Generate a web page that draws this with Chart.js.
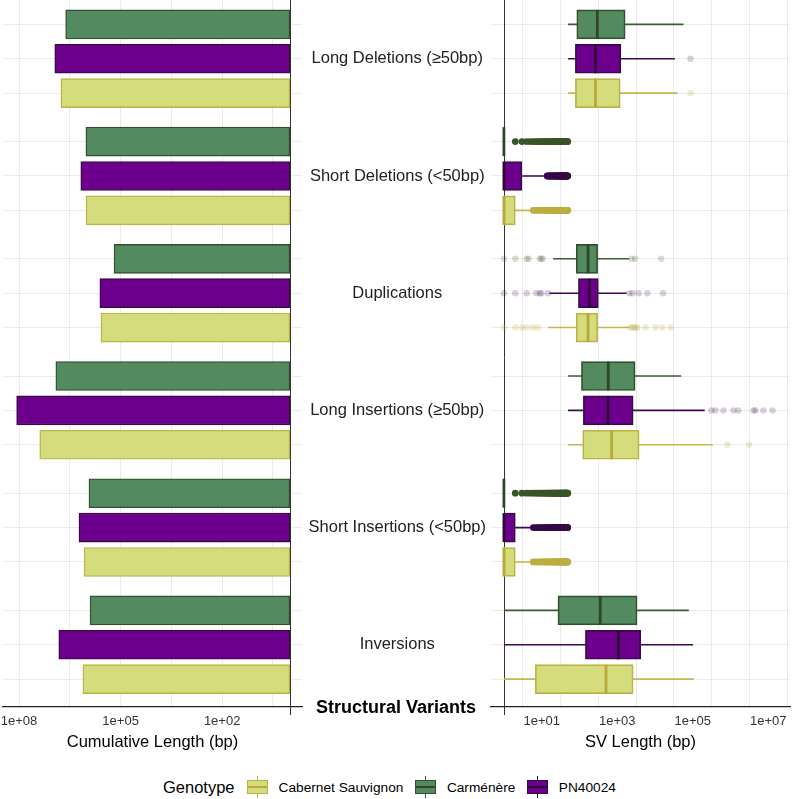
<!DOCTYPE html>
<html>
<head>
<meta charset="utf-8">
<script src="https://cdn.jsdelivr.net/npm/chart.js@4.4.1/dist/chart.umd.min.js"></script>
<style>
  html, body { margin: 0; padding: 0; background: #fff; }
  body { width: 792px; height: 799px; position: relative; overflow: hidden; font-family: "Liberation Sans", Arial, sans-serif; }
  .wrap { position: absolute; top: 0; height: 759px; }
  #leftWrap { left: 0; width: 305px; }
  #rightWrap { left: 305px; width: 487px; }
  #yTitle { position: absolute; left: 0; width: 792px; top: 698px; line-height: 18px; text-align: center; font-weight: bold; font-size: 18px; color: #000; }
  #legend { position: absolute; left: 163px; top: 776px; height: 22px; display: flex; align-items: center; color: #000; }
  #legend .ttl { font-size: 16.5px; margin-right: 12px; }
  #legend .key { position: relative; width: 21px; height: 22px; margin-right: 11px; }
  #legend .key .wh { position: absolute; left: 10px; top: 0; width: 1px; height: 22px; }
  #legend .key .bx { position: absolute; left: 0; top: 4px; width: 19px; height: 12px; border-width: 1px; border-style: solid; }
  #legend .key .md { position: absolute; left: 1px; top: 10px; width: 19px; height: 2px; }
  #legend .lab { font-size: 13.7px; margin-right: 11.5px; }
</style>
</head>
<body>
<div class="wrap" id="leftWrap"><canvas id="leftChart"></canvas></div>
<div class="wrap" id="rightWrap"><canvas id="rightChart"></canvas></div>
<div id="yTitle">Structural Variants</div>
<div id="legend"></div>
<script>
// categories (top to bottom) and genotype rows inside each category
const categories = ['Long Deletions (≥50bp)', 'Short Deletions (<50bp)', 'Duplications',
  'Long Insertions (≥50bp)', 'Short Insertions (<50bp)', 'Inversions'];
const rowGenotypes = ['Carménère', 'PN40024', 'Cabernet Sauvignon'];
const legendGenotypes = ['Cabernet Sauvignon', 'Carménère', 'PN40024'];

// cumulative length (bp) per category
const carmCum = [4.2e6, 1.06e6, 1.56e5, 8.2e6, 8.6e5, 8.0e5];
const pnCum = [8.8e6, 1.5e6, 4.1e5, 1.18e8, 1.7e6, 6.7e6];
const cabCum = [5.8e6, 1.05e6, 3.8e5, 2.45e7, 1.2e6, 1.3e6];

// boxplot stats [whisker low, q1, median, q3, whisker high]
const carmBox = [[50, 85, 297, 1620, 56900], [1, 1, 1, 1, 1], [20, 82, 169, 303, 2090],
  [50, 113, 580, 2970, 49500], [1, 1, 1, 1, 1], [1, 27, 355, 3360, 78500]];
const pnBox = [[50, 78, 265, 1250, 33700], [1, 1, 1, 3, 13], [16, 94, 183, 316, 1760],
  [50, 127, 569, 2640, 207000], [1, 1, 1, 2, 5], [1, 144, 1080, 4200, 102000]];
const cabBox = [[50, 78, 265, 1200, 39600], [1, 1, 1, 2, 5], [15, 82, 169, 303, 2090],
  [50, 122, 708, 3800, 341000], [1, 1, 1, 2, 5], [1, 6.8, 505, 2640, 106000]];

// sparse outliers (drawn translucent)
const carmOutliers = [[], [], [1, 2, 4, 4.5, 8.9, 9.8, 10.6, 2400, 2960, 14600], [], [], []];
const pnOutliers = [[87000], [], [1, 2, 4, 7.2, 8.9, 9.8, 14.6, 2090, 2560, 3700, 6300, 16300],
  [309000, 395000, 650000, 1.2e6, 1.6e6, 4.1e6, 4.6e6, 7.4e6, 1.3e7], [], []];
const cabOutliers = [[87000], [], [1, 2, 3, 4, 5.9, 8, 2200, 2500, 2800, 3100, 3400, 5700, 10400, 15700, 26100],
  [830000, 3.1e6], [], []];

// dense outlier runs of the short SVs (every length up to 49 bp)
const carmDense = [[], [2, 3, 4, 5, 6, 7, 8, 9, 10, 11, 12, 13, 14, 15, 16, 17, 18, 19, 20, 21, 22, 23, 24, 25, 26, 27, 28, 29, 30, 31, 32, 33, 34, 35, 36, 37, 38, 39, 40, 41, 42, 43, 44, 45, 46, 47, 48, 49], [], [],
  [2, 3, 4, 5, 6, 7, 8, 9, 10, 11, 12, 13, 14, 15, 16, 17, 18, 19, 20, 21, 22, 23, 24, 25, 26, 27, 28, 29, 30, 31, 32, 33, 34, 35, 36, 37, 38, 39, 40, 41, 42, 43, 44, 45, 46, 47, 48, 49], []];
const pnDense = [[], [14, 15, 16, 17, 18, 19, 20, 21, 22, 23, 24, 25, 26, 27, 28, 29, 30, 31, 32, 33, 34, 35, 36, 37, 38, 39, 40, 41, 42, 43, 44, 45, 46, 47, 48, 49], [], [],
  [6, 7, 8, 9, 10, 11, 12, 13, 14, 15, 16, 17, 18, 19, 20, 21, 22, 23, 24, 25, 26, 27, 28, 29, 30, 31, 32, 33, 34, 35, 36, 37, 38, 39, 40, 41, 42, 43, 44, 45, 46, 47, 48, 49], []];
const cabDense = [[], [6, 7, 8, 9, 10, 11, 12, 13, 14, 15, 16, 17, 18, 19, 20, 21, 22, 23, 24, 25, 26, 27, 28, 29, 30, 31, 32, 33, 34, 35, 36, 37, 38, 39, 40, 41, 42, 43, 44, 45, 46, 47, 48, 49], [], [],
  [6, 7, 8, 9, 10, 11, 12, 13, 14, 15, 16, 17, 18, 19, 20, 21, 22, 23, 24, 25, 26, 27, 28, 29, 30, 31, 32, 33, 34, 35, 36, 37, 38, 39, 40, 41, 42, 43, 44, 45, 46, 47, 48, 49], []];

// axis ticks
const leftTickValues = [1e8, 1e5, 1e2];
const leftTickLabels = ['1e+08', '1e+05', '1e+02'];
const leftGridValues = [10 ** 0.5, 1e2, 10 ** 3.5, 1e5, 10 ** 6.5, 1e8];
const rightTickValues = [1e1, 1e3, 1e5, 1e7];
const rightTickLabels = ['1e+01', '1e+03', '1e+05', '1e+07'];
const rightGridValues = [1e1, 1e2, 1e3, 1e4, 1e5, 1e6, 1e7];

// styling per genotype
const styles = {
  'Carménère': { fill: '#548a5f', border: '#33502c', median: '#2d4826', whisker: '#3e5c34', dot: '#3a5429', faint: 'rgba(58,84,41,0.2)' },
  'PN40024': { fill: '#6c008d', border: '#380a48', median: '#2e0839', whisker: '#3d0a4d', dot: '#360a45', faint: 'rgba(60,12,78,0.2)' },
  'Cabernet Sauvignon': { fill: '#d5dc7c', border: '#bcb347', median: '#b7a93c', whisker: '#c4b84c', dot: '#bcad40', faint: 'rgba(190,176,64,0.25)' }
};

const cumByGenotype = { 'Carménère': carmCum, 'PN40024': pnCum, 'Cabernet Sauvignon': cabCum };
const boxByGenotype = { 'Carménère': carmBox, 'PN40024': pnBox, 'Cabernet Sauvignon': cabBox };
const outByGenotype = { 'Carménère': carmOutliers, 'PN40024': pnOutliers, 'Cabernet Sauvignon': cabOutliers };
const denseByGenotype = { 'Carménère': carmDense, 'PN40024': pnDense, 'Cabernet Sauvignon': cabDense };

// vertical layout: rows one unit apart, categories a bit further apart
const GROUP_STEP = 3.41;
const rowPos = (g, r) => g * GROUP_STEP + r;
const Y_MIN = -0.71;
const Y_MAX = rowPos(categories.length - 1, 2) + 0.81;
const rowValues = categories.flatMap((c, g) => rowGenotypes.map((n, r) => rowPos(g, r)));
const groupCenters = categories.map((c, g) => rowPos(g, 1));

Chart.defaults.font.family = '"Liberation Sans", Arial, sans-serif';
Chart.defaults.animation = false;

const GRID = '#ebebeb';
const sameTick = (a, b) => Math.abs(Math.log10(a) - Math.log10(b)) < 1e-6;
const tickLabel = (values, labels) => v => {
  const i = values.findIndex(t => sameTick(t, v));
  return i >= 0 ? labels[i] : '';
};
// keep label overhang from shrinking the plot area
const noPad = s => { s.paddingTop = 0; s.paddingBottom = 0; s.paddingLeft = 0; s.paddingRight = 0; };

// vertical reference line at 1 bp, drawn under the marks
const vline = {
  id: 'vline',
  beforeDatasetsDraw(chart) {
    const { ctx, chartArea, scales } = chart;
    const px = Math.round(scales.x.getPixelForValue(1)) + 0.5;
    ctx.save();
    ctx.strokeStyle = '#333';
    ctx.lineWidth = 1;
    ctx.beginPath();
    ctx.moveTo(px, chartArea.top);
    ctx.lineTo(px, chartArea.bottom + 8);
    ctx.stroke();
    ctx.restore();
  }
};

function rowGridAxis() {
  return {
    type: 'linear', reverse: true, min: Y_MIN, max: Y_MAX, offset: false,
    afterBuildTicks: s => { s.ticks = rowValues.map(v => ({ value: v })); },
    ticks: { display: false },
    grid: { color: GRID, lineWidth: 1, drawTicks: false, offset: false },
    border: { display: false },
    afterFit: s => { s.width = 0; noPad(s); }
  };
}

function xAxis(min, max, grid, values, labels, title) {
  return {
    type: 'logarithmic', min, max, offset: false,
    afterBuildTicks: s => { s.ticks = grid.map(v => ({ value: v })); },
    ticks: { callback: tickLabel(values, labels), autoSkip: false, maxRotation: 0, padding: 7, color: '#333', font: { size: 13 } },
    grid: { color: GRID, lineWidth: 1, drawTicks: false },
    border: { display: true, color: '#222', width: 1.2 },
    title: { display: true, text: title, color: '#000', font: { size: 16.5 }, padding: { top: 4, bottom: 7 } },
    afterFit: s => { s.height = 52; noPad(s); }
  };
}

// left panel: cumulative length bars, axis reversed
const leftDatasets = rowGenotypes.map((name, r) => ({
  type: 'bar',
  label: name,
  data: categories.map((c, g) => ({ x: [1, cumByGenotype[name][g]], y: rowPos(g, r) })),
  backgroundColor: styles[name].fill,
  borderColor: styles[name].border,
  borderWidth: 1.4,
  borderSkipped: false,
  barThickness: 29,
  grouped: false
}));

new Chart(document.getElementById('leftChart'), {
  type: 'bar',
  data: { datasets: leftDatasets },
  options: {
    indexAxis: 'y',
    responsive: true,
    maintainAspectRatio: false,
    layout: { autoPadding: false, padding: { left: 3, right: 3, top: 0, bottom: 0 } },
    plugins: { legend: { display: false }, tooltip: { enabled: false } },
    scales: {
      x: { ...xAxis(10 ** -0.36, 10 ** 8.475, leftGridValues, leftTickValues, leftTickLabels, 'Cumulative Length (bp)'), reverse: true },
      y: rowGridAxis()
    }
  },
  plugins: [vline]
});

// right panel: SV length boxplots
const rightDatasets = [];
rowGenotypes.forEach((name, r) => {
  const st = styles[name];
  const box = boxByGenotype[name];
  rightDatasets.push({
    type: 'line', label: name + ' whiskers', order: 4,
    data: categories.flatMap((c, g) => [{ x: box[g][0], y: rowPos(g, r) }, { x: box[g][4], y: rowPos(g, r) }, { x: null, y: null }]),
    borderColor: st.whisker, borderWidth: 1.6, pointRadius: 0, spanGaps: false
  });
  rightDatasets.push({
    type: 'bar', label: name + ' box', order: 3, indexAxis: 'y',
    data: categories.map((c, g) => ({ x: [box[g][1], box[g][3]], y: rowPos(g, r) })),
    backgroundColor: st.fill, borderColor: st.border, borderWidth: 1.7, borderSkipped: false,
    barThickness: 29, grouped: false
  });
  rightDatasets.push({
    type: 'line', label: name + ' median', order: 2, showLine: false,
    data: categories.map((c, g) => ({ x: box[g][2], y: rowPos(g, r) })),
    pointStyle: 'line', pointRotation: 90, pointRadius: 14.5, pointBorderWidth: 2.8,
    pointBorderColor: st.median
  });
  rightDatasets.push({
    type: 'line', label: name + ' outliers', order: 1, showLine: false,
    data: categories.flatMap((c, g) => outByGenotype[name][g].map(v => ({ x: v, y: rowPos(g, r) }))),
    pointRadius: 3.2, pointBorderWidth: 0, pointBackgroundColor: st.faint
  });
  rightDatasets.push({
    type: 'line', label: name + ' dense outliers', order: 0, showLine: false,
    data: categories.flatMap((c, g) => denseByGenotype[name][g].map(v => ({ x: v, y: rowPos(g, r) }))),
    pointRadius: 3.4, pointBorderWidth: 0, pointBackgroundColor: st.dot
  });
});

new Chart(document.getElementById('rightChart'), {
  type: 'bar',
  data: { datasets: rightDatasets },
  options: {
    responsive: true,
    maintainAspectRatio: false,
    layout: { autoPadding: false, padding: { left: 0, right: 2, top: 0, bottom: 0 } },
    plugins: { legend: { display: false }, tooltip: { enabled: false } },
    scales: {
      x: xAxis(10 ** -0.342, 10 ** 7.575, rightGridValues, rightTickValues, rightTickLabels, 'SV Length (bp)'),
      y: rowGridAxis(),
      yl: {
        type: 'linear', position: 'left', reverse: true, min: Y_MIN, max: Y_MAX, offset: false,
        afterBuildTicks: s => { s.ticks = groupCenters.map(v => ({ value: v })); },
        ticks: { callback: (v, i) => categories[i], autoSkip: false, crossAlign: 'center', padding: 5, color: '#222', font: { size: 16.5 } },
        grid: { display: false, drawTicks: false },
        border: { display: false },
        afterFit: s => { s.width = 186; noPad(s); }
      }
    }
  },
  plugins: [vline]
});

// legend with small boxplot keys
const legend = document.getElementById('legend');
legend.innerHTML = '<span class="ttl">Genotype</span>' + legendGenotypes.map(name => {
  const st = styles[name];
  return `<div class="key"><div class="wh" style="background:${st.whisker}"></div>` +
    `<div class="bx" style="background:${st.fill};border-color:${st.border}"></div>` +
    `<div class="md" style="background:${st.median}"></div></div><span class="lab">${name}</span>`;
}).join('');
</script>
</body>
</html>
